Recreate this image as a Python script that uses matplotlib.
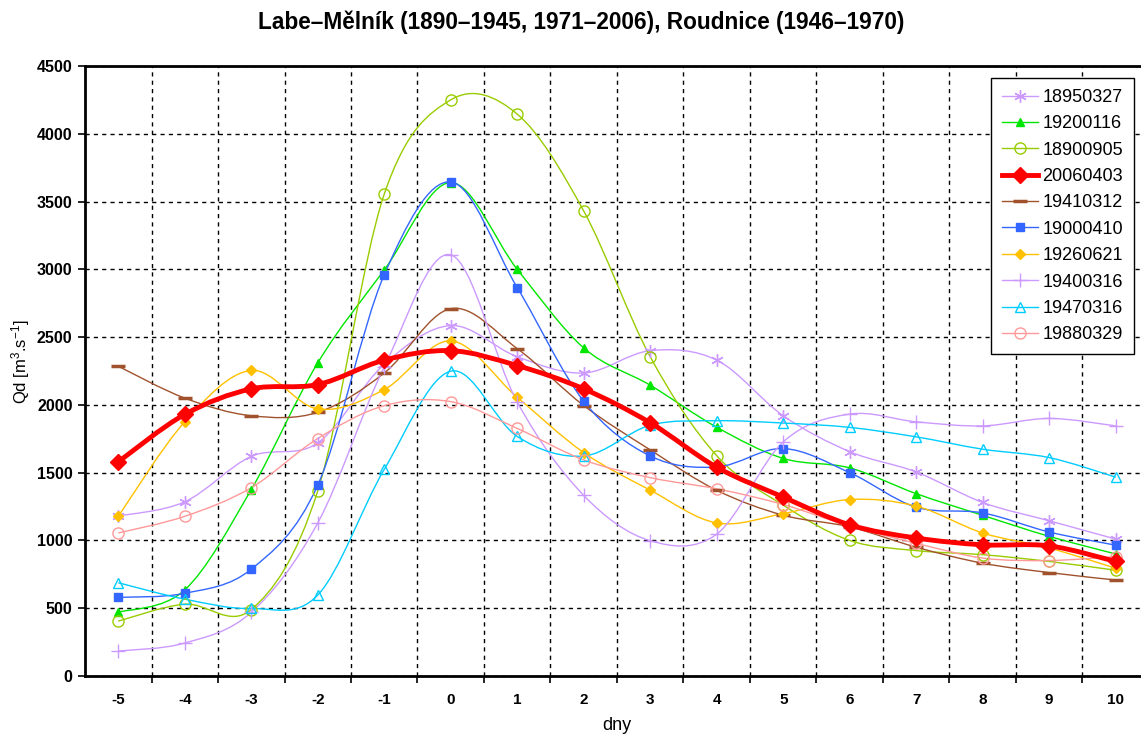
import matplotlib
matplotlib.use("Agg")
import matplotlib.pyplot as plt
import numpy as np
from matplotlib.path import Path
from matplotlib.patches import PathPatch
from matplotlib.lines import Line2D

plt.rcParams['font.family'] = ['Liberation Sans', 'DejaVu Sans']
plt.rcParams['mathtext.default'] = 'regular'
plt.rcParams['axes.unicode_minus'] = False

# days relative to culmination
dny = [-5, -4, -3, -2, -1, 0, 1, 2, 3, 4, 5, 6, 7, 8, 9, 10]

q_18950327 = [1180, 1285, 1620, 1720, 2300, 2585, 2355, 2235, 2400, 2330, 1920, 1655, 1505, 1280, 1145, 1010]
q_19200116 = [470, 635, 1375, 2310, 2995, 3640, 3000, 2420, 2145, 1835, 1605, 1535, 1345, 1185, 1030, 900]
q_18900905 = [405, 530, 490, 1365, 3555, 4250, 4145, 3430, 2355, 1625, 1260, 1000, 925, 895, 845, 780]
q_20060403 = [1580, 1930, 2118, 2150, 2330, 2400, 2290, 2118, 1868, 1540, 1320, 1115, 1018, 968, 960, 845]
q_19410312 = [2285, 2050, 1920, 1945, 2235, 2710, 2415, 1995, 1668, 1370, 1186, 1100, 950, 832, 763, 708]
q_19000410 = [580, 610, 788, 1408, 2960, 3645, 2865, 2027, 1623, 1542, 1678, 1500, 1245, 1203, 1062, 965]
q_19260621 = [1178, 1875, 2254, 1970, 2113, 2472, 2056, 1648, 1371, 1129, 1198, 1302, 1253, 1055, 944, 795]
q_19400316 = [184, 243, 470, 1129, 2280, 3107, 2020, 1332, 998, 1047, 1727, 1932, 1875, 1845, 1900, 1845]
q_19470316 = [688, 567, 498, 597, 1524, 2249, 1767, 1623, 1850, 1883, 1866, 1834, 1764, 1673, 1611, 1467]
q_19880329 = [1055, 1178, 1389, 1752, 1994, 2024, 1826, 1594, 1463, 1381, 1265, 1105, 979, 870, 852, 881]

labels = ['18950327', '19200116', '18900905', '20060403', '19410312',
          '19000410', '19260621', '19400316', '19470316', '19880329']
series = [q_18950327, q_19200116, q_18900905, q_20060403, q_19410312,
          q_19000410, q_19260621, q_19400316, q_19470316, q_19880329]

# color, marker, markersize, filled, linewidth
styles = [
    ('#cc99ff', (6, 2, 0), 9, True, 1.0),
    ('#00e600', '^', 6, True, 1.0),
    ('#99cc00', 'o', 8, False, 1.0),
    ('#ff0000', 'D', 8, True, 3.5),
    ('#a0522d', '_', 10, True, 1.0),
    ('#3366ff', 's', 6, True, 1.0),
    ('#ffc000', 'D', 5, True, 1.0),
    ('#cc99ff', '+', 10, True, 1.0),
    ('#00ccff', '^', 7, False, 1.0),
    ('#ff9999', 'o', 8, False, 1.0),
]


def smooth_path(x, y):
    # excel-like bezier smoothing through the data points
    p = np.column_stack([x, y]).astype(float)
    n = len(p)
    verts = [p[0]]
    codes = [Path.MOVETO]
    for i in range(n - 1):
        p0 = p[i - 1] if i > 0 else p[i]
        p3 = p[i + 2] if i + 2 < n else p[i + 1]
        c1 = p[i] + (p[i + 1] - p0) / 6
        c2 = p[i + 1] - (p3 - p[i]) / 6
        verts += [c1, c2, p[i + 1]]
        codes += [Path.CURVE4] * 3
    return Path(verts, codes)


fig = plt.figure(figsize=(11.41, 7.38), dpi=100)
ax = fig.add_axes([0.0745, 0.0840, 0.9325, 0.8266])

handles = []
for k in range(len(series)):
    col, mk, ms, filled, lw = styles[k]
    z = 10 if labels[k] == '20060403' else 3
    ax.add_patch(PathPatch(smooth_path(dny, series[k]), fill=False, edgecolor=col, lw=lw, zorder=z))
    mfc = col if filled else 'none'
    mew = 2.5 if mk == '_' else 1.0
    ax.plot(dny, series[k], ls='none', marker=mk, ms=ms, color=col, mfc=mfc, mec=col, mew=mew, zorder=z + 0.5)
    handles.append(Line2D([], [], color=col, lw=lw, marker=mk, ms=ms, mfc=mfc, mec=col, mew=mew))

ax.set_xlim(-5.5, 10.5)
ax.set_ylim(0, 4500)
ax.set_yticks(np.arange(0, 4501, 500))
ax.set_xticks(dny)
ax.set_xticks(np.arange(-4.5, 10.6, 1), minor=True)
ax.tick_params(axis='x', which='major', length=0, pad=12, labelsize=11)
ax.tick_params(axis='x', which='minor', length=5, width=1.2, direction='out')
ax.tick_params(axis='y', length=5, width=1.2, direction='out', pad=4, labelsize=11.5)
for lab in ax.get_xticklabels() + ax.get_yticklabels():
    lab.set_fontweight('bold')

ax.grid(False)
ax.yaxis.grid(True, which='major', color='black', ls=(0, (3, 3)), lw=1)
ax.xaxis.grid(True, which='minor', color='black', ls=(0, (3, 3)), lw=1)
ax.set_axisbelow(True)
for s in ['left', 'bottom', 'top']:
    ax.spines[s].set_linewidth(2)
ax.spines['right'].set_visible(False)

fig.text(0.509, 0.970, 'Labe–Mělník (1890–1945, 1971–2006), Roudnice (1946–1970)',
         ha='center', va='center', fontsize=16.3, fontweight='bold')
fig.text(0.541, 0.0176, 'dny', ha='center', va='center', fontsize=13)
fig.text(0.018, 0.5095, 'Qd [m$^{3}$.s$^{-1}$]', ha='center', va='center', rotation=90, fontsize=12)

leg = ax.legend(handles, labels, loc='upper right', bbox_to_anchor=(0.9939, 0.8943),
                bbox_transform=fig.transFigure, fontsize=13, handlelength=2.0,
                labelspacing=0.52, borderpad=0.6, handletextpad=0.25, borderaxespad=0,
                fancybox=False, framealpha=1, edgecolor='black')
leg.get_frame().set_linewidth(1.0)
leg.set_zorder(20)

fig.savefig('out.png', dpi=100)
